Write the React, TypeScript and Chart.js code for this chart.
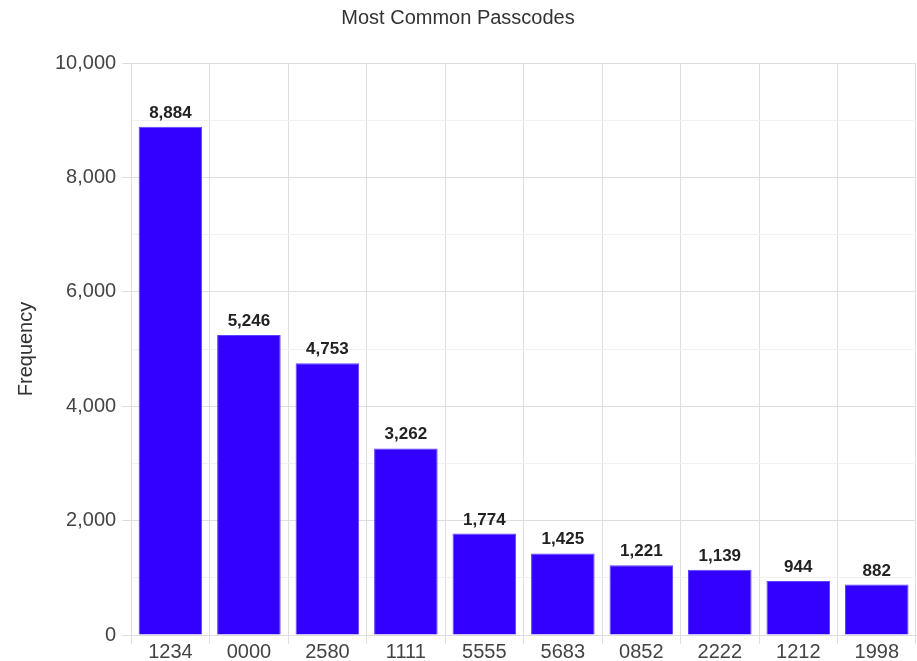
import React, { useEffect, useRef } from "react";
import { Chart, registerables } from "chart.js";

Chart.register(...registerables);

const categories: string[] = ["1234", "0000", "2580", "1111", "5555", "5683", "0852", "2222", "1212", "1998"];
const frequencies: number[] = [8884, 5246, 4753, 3262, 1774, 1425, 1221, 1139, 944, 882];
const yTickValues: number[] = [0, 2000, 4000, 6000, 8000, 10000];

const FONT = "'Liberation Sans', Arial, Helvetica, sans-serif";

const valueLabelPlugin = {
  id: "valueLabels",
  afterDatasetsDraw(chart: any) {
    const ctx = chart.ctx;
    const meta = chart.getDatasetMeta(0);
    ctx.save();
    ctx.font = `bold 17px ${FONT}`;
    ctx.fillStyle = "#222";
    ctx.textAlign = "center";
    ctx.textBaseline = "alphabetic";
    meta.data.forEach((bar: any, i: number) => {
      const v = chart.data.datasets[0].data[i] as number;
      ctx.fillText(v.toLocaleString("en-US"), bar.x, bar.y - 9);
    });
    ctx.restore();
  },
};

export default function App() {
  const canvasRef = useRef<HTMLCanvasElement | null>(null);

  useEffect(() => {
    document.body.style.margin = "0";
    const canvas = canvasRef.current;
    if (!canvas) return;
    const chart = new Chart(canvas, {
      type: "bar",
      data: {
        labels: categories,
        datasets: [
          {
            label: "Frequency",
            data: frequencies,
            backgroundColor: "#3300ff",
            borderColor: "#5a44ff",
            borderWidth: 1,
            barPercentage: 0.81,
            categoryPercentage: 1.0,
          },
        ],
      },
      options: {
        responsive: false,
        animation: false,
        devicePixelRatio: 1,
        layout: { padding: { left: 0, right: 1, top: 0, bottom: 1 } },
        plugins: {
          legend: { display: false },
          tooltip: { enabled: false },
          title: {
            display: true,
            text: "Most Common Passcodes",
            color: "#333",
            font: { family: FONT, size: 20, weight: "normal" },
            padding: { top: 6, bottom: 33 },
          },
        },
        scales: {
          x: {
            grid: {
              color: "#dedede",
              tickColor: "#dedede",
              tickLength: 9,
              offset: true,
            },
            border: { color: "#dedede" },
            ticks: {
              color: "#444",
              font: { family: FONT, size: 20, lineHeight: 1 },
              padding: -2,
              maxRotation: 0,
            },
          },
          y: {
            min: 0,
            max: 10000,
            grid: {
              color: (c: any) => (c.tick && c.tick.value % 2000 === 0 ? "#dedede" : "#f1f1f1"),
              tickColor: (c: any) => (c.tick && c.tick.value % 2000 === 0 ? "#dedede" : "rgba(0,0,0,0)"),
              tickLength: 9,
            },
            border: { color: "#dedede" },
            ticks: {
              stepSize: 1000,
              color: "#444",
              padding: 6,
              font: { family: FONT, size: 20 },
              callback: (value: any) =>
                yTickValues.includes(Number(value)) ? Number(value).toLocaleString("en-US") : "",
            },
            title: {
              display: true,
              text: "Frequency",
              color: "#333",
              font: { family: FONT, size: 20 },
              padding: { top: 14, bottom: 11 },
            },
          },
        },
      },
      plugins: [valueLabelPlugin],
    });
    return () => chart.destroy();
  }, []);

  return (
    <div style={{ width: 917, height: 661 }}>
      <canvas ref={canvasRef} width={917} height={661} />
    </div>
  );
}
